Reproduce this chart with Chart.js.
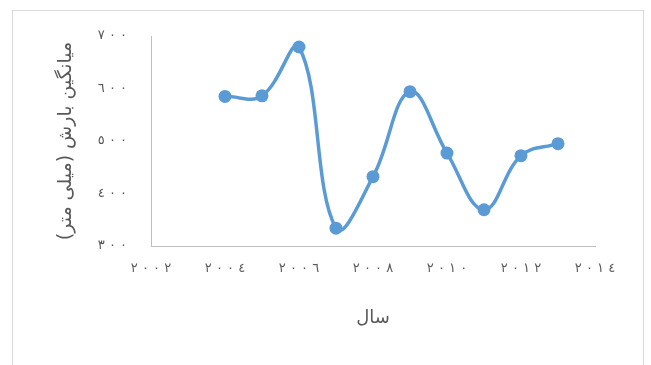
<!DOCTYPE html>
<html>
<head>
<meta charset="utf-8">
<script src="https://cdn.jsdelivr.net/npm/chart.js@4"></script>
<style>
  html, body { margin: 0; padding: 0; background: #fff; }
  #wrap { position: relative; width: 651px; height: 365px; overflow: hidden; }
  #frame { position: absolute; left: 12px; top: 10px; width: 630px; height: 400px; border: 1px solid #d9d9d9; }
  #c { position: absolute; left: 0; top: 0; }
</style>
</head>
<body>
<div id="wrap">
  <div id="frame"></div>
  <canvas id="c" width="651" height="365"></canvas>
</div>
<script>
// data
const years = [2004, 2005, 2006, 2007, 2008, 2009, 2010, 2011, 2012, 2013];
const rainfall = [585, 586, 679, 334, 432, 594, 477, 369, 472, 495];
const xTitle = "سال";
const yTitle = "میانگین بارش (میلی متر)\u200F";
const arabicDigits = ["٠", "١", "٢", "٣", "٤", "٥", "٦", "٧", "٨", "٩"];

// arabic-indic digits, spaced out like the original (LRM keeps the order)
const toArabic = v => String(v).split("").map(d => arabicDigits[d]).join(" \u200E");
const blue = "#5B9BD5";
const grey = "#595959";
const fontFam = "DejaVu Sans";

new Chart(document.getElementById("c"), {
  type: "line",
  data: {
    datasets: [{
      data: years.map((y, i) => ({ x: y, y: rainfall[i] })),
      borderColor: blue,
      backgroundColor: blue,
      borderWidth: 3.5,
      pointRadius: 6.5,
      pointBorderWidth: 0,
      pointBackgroundColor: blue,
      tension: 0.4,
      clip: false
    }]
  },
  options: {
    responsive: false,
    animation: false,
    layout: { padding: { top: 36, right: 56, left: 0, bottom: 0 } },
    plugins: { legend: { display: false }, tooltip: { enabled: false } },
    scales: {
      x: {
        type: "linear", min: 2002, max: 2014,
        grid: { display: false, drawTicks: false },
        border: { color: "#bfbfbf", width: 1 },
        ticks: { stepSize: 2, padding: 15, color: grey, font: { family: fontFam, size: 13 }, callback: v => toArabic(v) },
        title: { display: true, text: xTitle, color: grey, font: { family: fontFam, size: 18 }, padding: { top: 0, bottom: 36 } },
        afterFit: s => { s.height = 119; }
      },
      y: {
        min: 300, max: 700,
        grid: { display: false, drawTicks: false },
        border: { color: "#bfbfbf", width: 1 },
        ticks: { stepSize: 100, padding: 24, color: grey, font: { family: fontFam, size: 13 }, callback: v => toArabic(v) },
        title: { display: true, text: yTitle, color: grey, font: { family: fontFam, size: 19 }, padding: { top: 55, bottom: 0 } },
        afterFit: s => { s.width = 151; }
      }
    }
  }
});
</script>
</body>
</html>
